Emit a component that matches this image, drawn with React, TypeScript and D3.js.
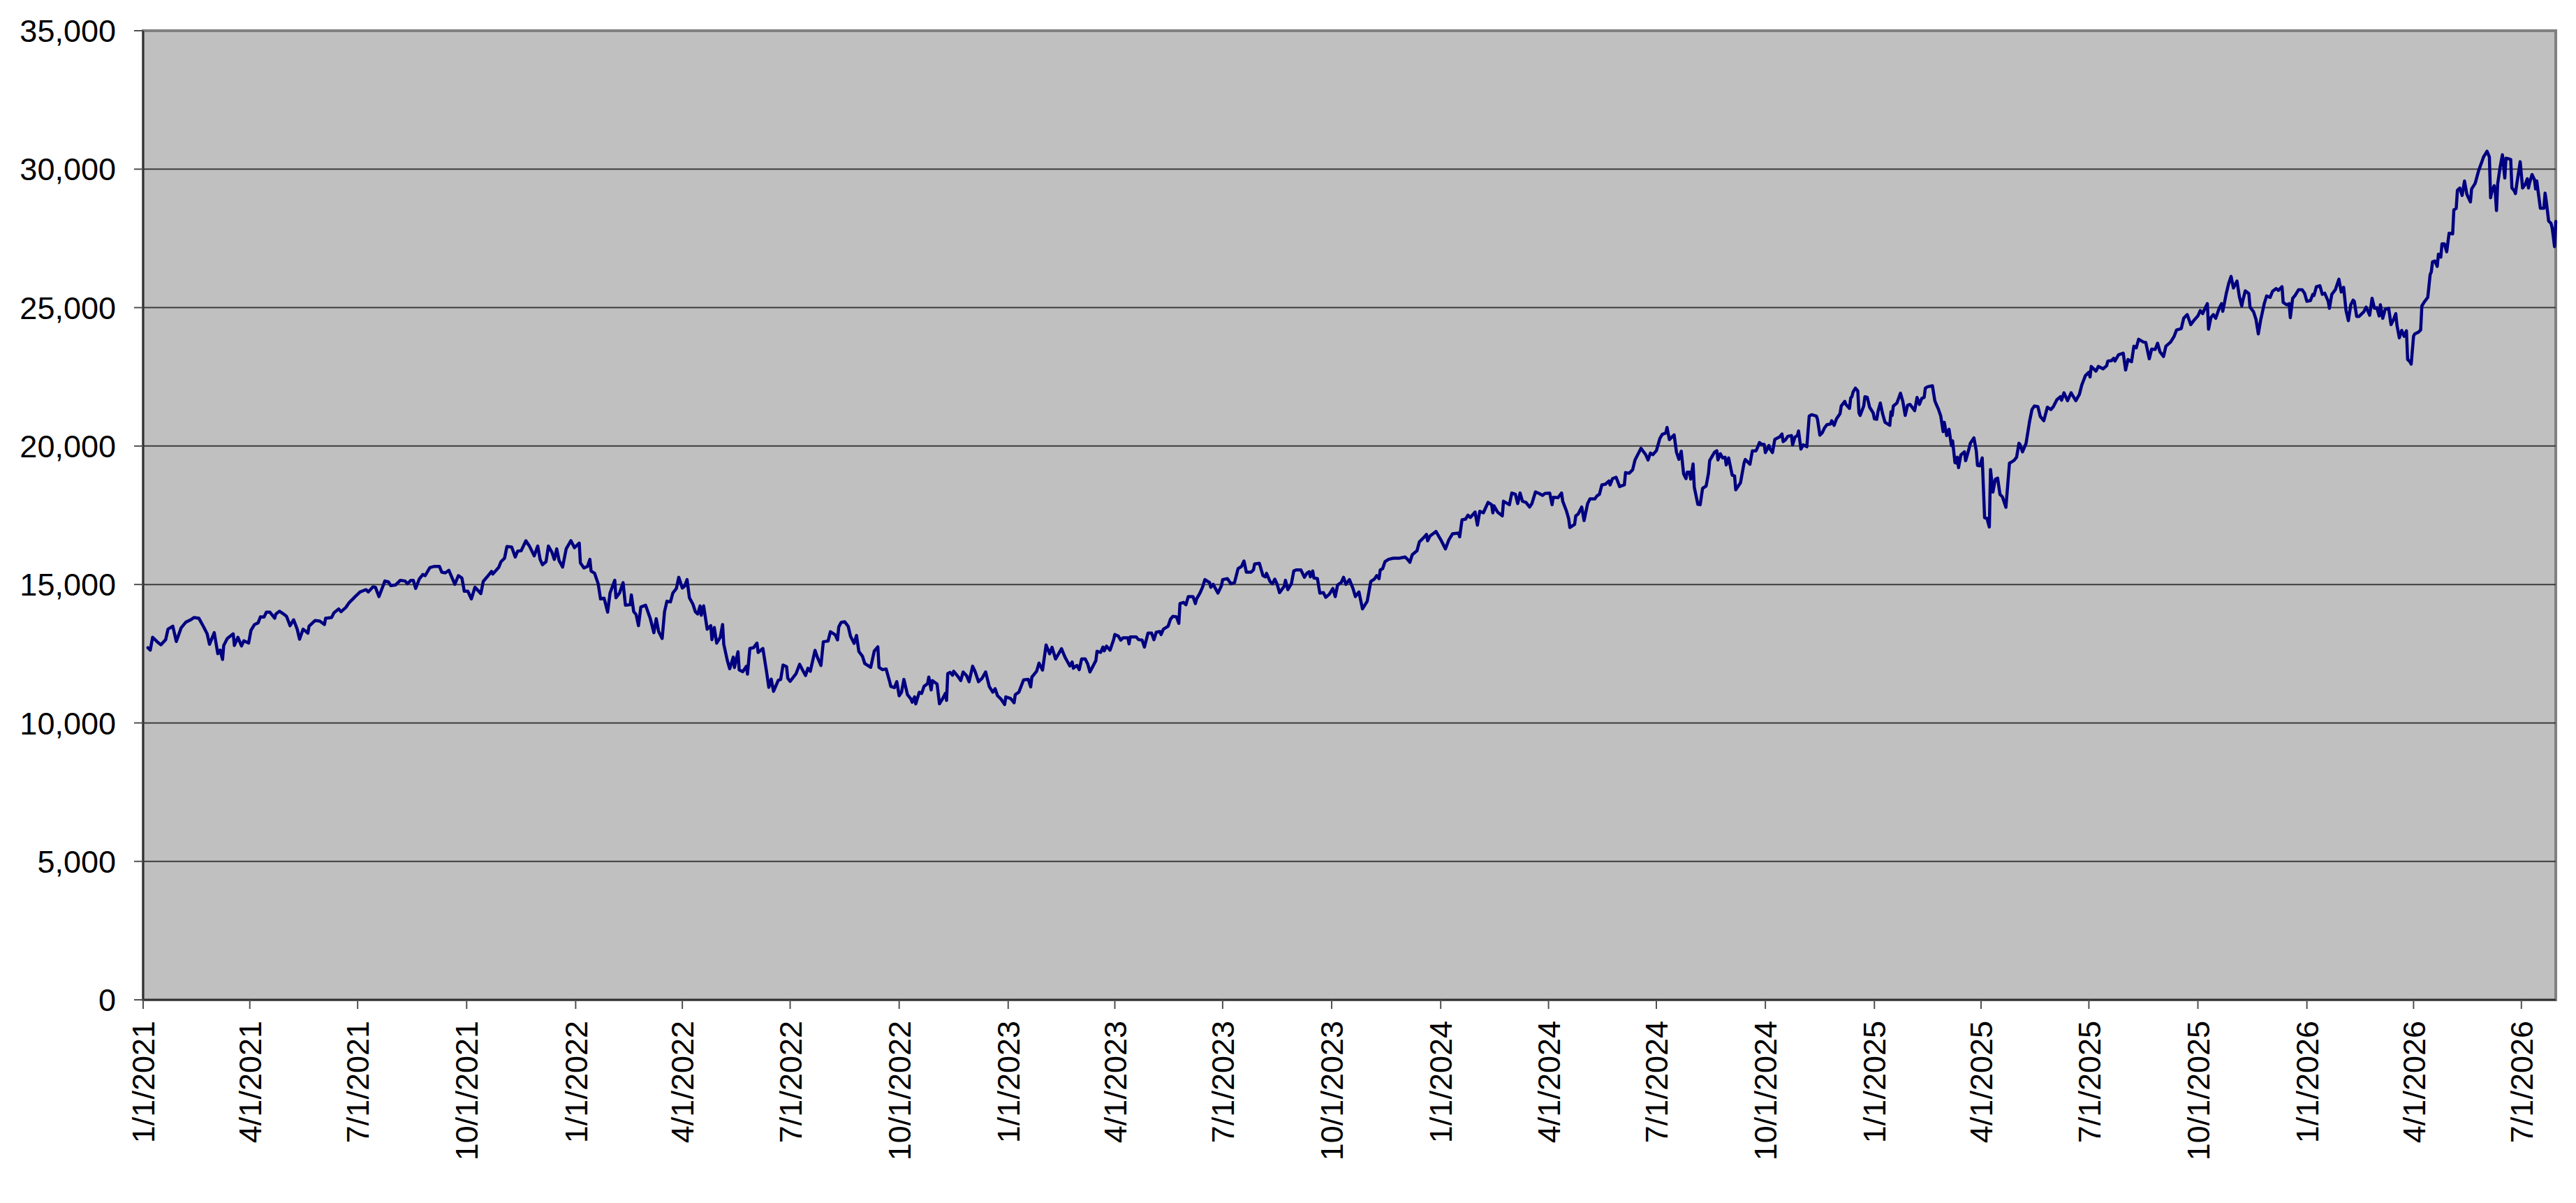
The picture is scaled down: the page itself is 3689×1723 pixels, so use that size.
import React from "react";
import * as d3 from "d3";

// ---- DATA ----
const yTicks: number[] = [0, 5000, 10000, 15000, 20000, 25000, 30000, 35000];

const xTickLabels: string[] = [
  "1/1/2021", "4/1/2021", "7/1/2021", "10/1/2021",
  "1/1/2022", "4/1/2022", "7/1/2022", "10/1/2022",
  "1/1/2023", "4/1/2023", "7/1/2023", "10/1/2023",
  "1/1/2024", "4/1/2024", "7/1/2024", "10/1/2024",
  "1/1/2025", "4/1/2025", "7/1/2025", "10/1/2025",
  "1/1/2026", "4/1/2026", "7/1/2026",
];

const axisStart = "2021-01-01";
const axisEnd = "2026-07-30";

const y2021: [string, number][] = [
  ["01-05",12715],["01-07",12630],["01-09",13093],["01-13",12925],["01-16",12824],["01-20",13008],["01-22",13387],
  ["01-26",13496],["01-29",12941],["02-02",13429],["02-06",13639],["02-10",13723],["02-13",13807],["02-17",13782],
  ["02-21",13471],["02-24",13219],["02-26",12840],["03-02",13261],["03-05",12504],["03-07",12630],["03-09",12294],
  ["03-10",12798],["03-13",13050],["03-18",13219],["03-19",12798],["03-22",13093],["03-25",12782],["03-27",12967],
  ["03-31",12883],["04-02",13345],["04-05",13555],["04-08",13613],["04-10",13832],["04-13",13824],["04-15",14000],
  ["04-18",14000],["04-22",13782],["04-23",13933],["04-26",14034],["04-29",13950],["05-02",13849],["05-05",13513],
  ["05-08",13723],["05-11",13387],["05-13",13025],["05-16",13387],["05-20",13244],["05-21",13496],["05-26",13698],
  ["05-30",13681],["06-03",13555],["06-04",13782],["06-09",13807],["06-11",13975],["06-15",14118],["06-17",14017],
  ["06-21",14168],["06-24",14353],["06-29",14563],["07-03",14731],["07-08",14815],["07-10",14731],["07-14",14916],
  ["07-16",14899],["07-19",14563],["07-24",15126],["07-27",15092],["07-29",14958],["08-02",14983],["08-06",15151],
  ["08-10",15126],["08-12",15025],["08-15",15151],["08-17",15151],["08-19",14857],["08-22",15193],["08-25",15361],
  ["08-27",15319],["08-31",15613],["09-04",15655],["09-08",15655],["09-10",15445],["09-13",15420],["09-16",15513],
  ["09-21",15008],["09-24",15319],["09-27",15235],["09-29",14756],["10-02",14756],["10-05",14479],["10-08",14899],
  ["10-13",14672],["10-15",15109],["10-18",15260],["10-22",15471],["10-23",15378],["10-28",15613],["10-30",15823],
  ["11-02",15950],["11-04",16370],["11-08",16353],["11-11",15992],["11-13",16202],["11-16",16218],["11-20",16580],
  ["11-23",16387],["11-27",16034],["11-30",16387],["12-02",15907],["12-04",15714],["12-07",15823],["12-09",16387],
  ["12-12",16160],["12-14",15907],["12-16",16286],["12-18",15866],["12-21",15630],["12-24",16286],["12-28",16580],
  ["12-31",16328],
];

const y2022: [string, number][] = [
  ["01-04",16496],["01-05",15781],["01-08",15597],["01-11",15655],["01-13",15907],["01-14",15487],["01-17",15403],
  ["01-20",15025],["01-22",14479],["01-25",14504],["01-28",14000],["01-30",14689],["02-03",15151],["02-04",14521],
  ["02-07",14689],["02-10",15067],["02-12",14252],["02-16",14269],["02-17",14622],["02-19",14017],["02-21",13916],
  ["02-23",13513],["02-25",14185],["03-01",14252],["03-05",13765],["03-08",13261],["03-10",13765],["03-12",13303],
  ["03-15",13050],["03-17",14017],["03-19",14395],["03-22",14370],["03-24",14689],["03-27",14857],["03-29",15260],
  ["04-01",14874],["04-03",14941],["04-05",15176],["04-07",14521],["04-10",14286],["04-12",14017],["04-14",13933],
  ["04-16",14227],["04-17",13891],["04-19",14227],["04-22",13387],["04-25",13513],["04-26",13008],["04-28",13445],
  ["04-30",12882],["05-03",13092],["05-05",13555],["05-06",12840],["05-09",12252],["05-11",11958],["05-14",12378],
  ["05-15",12000],["05-18",12571],["05-19",11916],["05-22",11849],["05-25",12042],["05-26",11765],["05-28",12689],
  ["05-31",12714],["06-03",12882],["06-04",12546],["06-08",12689],["06-11",11874],["06-13",11286],["06-15",11580],
  ["06-17",11143],["06-21",11538],["06-23",11572],["06-25",12093],["06-28",12034],["06-29",11614],["07-01",11504],
  ["07-06",11782],["07-09",12118],["07-11",11950],["07-14",11714],["07-16",11975],["07-18",11866],["07-22",12622],
  ["07-24",12370],["07-27",12076],["07-29",12933],["08-02",12958],["08-04",13294],["08-08",13185],["08-10",13000],
  ["08-11",13462],["08-13",13630],["08-16",13656],["08-19",13487],["08-21",13126],["08-24",12874],["08-26",13160],
  ["08-28",12580],["08-31",12412],["09-02",12143],["09-07",12009],["09-10",12597],["09-13",12748],["09-14",12009],
  ["09-17",11924],["09-20",11950],["09-23",11488],["09-24",11320],["09-27",11277],["09-29",11488],["10-01",10983],
  ["10-03",11109],["10-05",11572],["10-08",11025],["10-11",10857],["10-12",10748],["10-14",10941],["10-15",10689],
  ["10-18",11109],["10-20",11067],["10-22",11320],["10-25",11420],["10-26",11656],["10-28",11193],["10-29",11530],
  ["11-02",11404],["11-04",10689],["11-07",10899],["11-09",11067],["11-10",10815],["11-11",11782],["11-13",11824],
  ["11-15",11723],["11-16",11866],["11-20",11656],["11-22",11530],["11-24",11840],["11-27",11698],["11-29",11488],
  ["12-02",12050],["12-04",11866],["12-07",11488],["12-10",11614],["12-13",11840],["12-16",11320],["12-19",11109],
  ["12-21",11236],["12-23",10983],["12-26",10857],["12-29",10664],["12-30",10941],
];

const y2023: [string, number][] = [
  ["01-03",10883],["01-06",10731],["01-07",11025],["01-10",11109],["01-14",11555],["01-18",11572],["01-20",11303],
  ["01-21",11656],["01-25",11866],["01-27",12160],["01-30",11908],["02-02",12815],["02-05",12496],["02-07",12731],
  ["02-10",12311],["02-15",12681],["02-18",12370],["02-22",12059],["02-24",12202],["02-25",11975],["02-28",12076],
  ["03-02",11924],["03-04",12311],["03-07",12311],["03-09",12143],["03-11",11840],["03-16",12252],["03-17",12588],
  ["03-20",12546],["03-22",12740],["03-23",12605],["03-25",12773],["03-28",12630],["03-31",13008],["04-01",13193],
  ["04-04",13134],["04-06",12992],["04-08",13076],["04-12",13076],["04-13",12857],["04-14",13109],["04-19",13109],
  ["04-21",13008],["04-24",12992],["04-26",12740],["04-29",13244],["05-02",13244],["05-04",13008],["05-06",13277],
  ["05-09",13303],["05-10",13193],["05-12",13387],["05-16",13496],["05-18",13748],["05-20",13849],["05-23",13832],
  ["05-25",13597],["05-26",14311],["05-29",14353],["05-31",14269],["06-02",14563],["06-06",14563],["06-08",14311],
  ["06-09",14479],["06-12",14706],["06-14",14899],["06-16",15176],["06-20",15067],["06-21",14899],["06-23",15008],
  ["06-27",14689],["06-30",14958],["07-01",15176],["07-05",15210],["07-08",15025],["07-11",15067],["07-14",15571],
  ["07-17",15655],["07-19",15849],["07-21",15445],["07-25",15445],["07-27",15529],["07-28",15739],["08-01",15765],
  ["08-04",15319],["08-06",15277],["08-07",15403],["08-10",15109],["08-12",15025],["08-14",15193],["08-16",15008],
  ["08-18",14706],["08-22",14941],["08-23",15151],["08-25",14815],["08-28",15025],["08-30",15487],["09-01",15529],
  ["09-05",15529],["09-08",15260],["09-10",15403],["09-12",15462],["09-13",15277],["09-15",15487],["09-16",15235],
  ["09-19",15210],["09-21",14689],["09-24",14706],["09-26",14538],["09-29",14647],["10-02",14857],["10-04",14563],
  ["10-06",14983],["10-09",15067],["10-11",15260],["10-13",15008],["10-16",15176],["10-19",14857],["10-21",14563],
  ["10-24",14731],["10-27",14118],["10-31",14395],["11-03",15109],["11-06",15193],["11-08",15319],["11-10",15210],
  ["11-11",15529],["11-13",15571],["11-15",15824],["11-18",15908],["11-22",15950],["11-27",15950],["12-02",15992],
  ["12-04",15908],["12-06",15799],["12-08",16076],["12-12",16219],["12-14",16538],["12-17",16664],["12-20",16807],
  ["12-21",16580],["12-23",16748],["12-28",16916],
];

const y2024: [string, number][] = [
  ["01-01",16622],["01-05",16286],["01-08",16622],["01-11",16832],["01-16",16857],["01-17",16723],["01-19",17336],
  ["01-22",17361],["01-24",17504],["01-26",17420],["01-30",17614],["02-01",17143],["02-03",17647],["02-06",17588],
  ["02-10",17966],["02-13",17882],["02-14",17588],["02-15",17840],["02-18",17614],["02-22",17479],["02-23",18008],
  ["02-28",17882],["03-01",18303],["03-04",18261],["03-06",17924],["03-08",18303],["03-10",18008],["03-13",17966],
  ["03-16",17798],["03-18",17924],["03-21",18345],["03-24",18286],["03-27",18219],["03-29",18286],["04-02",18303],
  ["04-04",17882],["04-05",18151],["04-09",18135],["04-12",18303],["04-13",18008],["04-16",17672],["04-18",17378],
  ["04-19",17059],["04-23",17168],["04-24",17479],["04-26",17546],["04-29",17798],["05-01",17311],["05-04",17924],
  ["05-06",18092],["05-10",18092],["05-12",18202],["05-14",18261],["05-16",18597],["05-19",18622],["05-22",18740],
  ["05-23",18597],["05-25",18824],["05-28",18874],["05-31",18538],["06-04",18597],["06-05",19042],["06-08",19017],
  ["06-11",19143],["06-13",19496],["06-18",19916],["06-22",19689],["06-24",19496],["06-26",19748],["06-28",19689],
  ["07-01",19832],["07-04",20277],["07-06",20420],["07-09",20471],["07-10",20672],["07-12",20235],["07-16",20403],
  ["07-18",19773],["07-20",19521],["07-22",19815],["07-24",18992],["07-26",18824],["07-27",19059],["07-29",19059],
  ["07-30",18807],["08-01",19353],["08-02",18513],["08-05",17899],["08-07",17882],["08-09",18471],["08-12",18555],
  ["08-14",19017],["08-15",19479],["08-19",19773],["08-21",19832],["08-22",19500],["08-24",19723],["08-26",19571],
  ["08-28",19597],["08-29",19319],["08-31",19571],["09-03",18950],["09-05",18924],["09-06",18420],["09-10",18672],
  ["09-13",19387],["09-14",19513],["09-18",19345],["09-20",19824],["09-23",19824],["09-24",19908],["09-26",20126],
  ["09-28",20059],["09-30",20059],["10-01",19765],["10-04",20017],["10-05",19891],["10-07",19765],["10-09",20244],
  ["10-13",20328],["10-15",20437],["10-16",20160],["10-18",20227],["10-20",20353],["10-23",20378],["10-24",20042],
  ["10-26",20328],["10-28",20378],["10-29",20546],["10-31",19891],["11-02",20042],["11-05",19975],["11-07",21084],
  ["11-09",21134],["11-13",21084],["11-14",20966],["11-16",20395],["11-18",20479],["11-20",20664],["11-22",20773],
  ["11-25",20798],["11-26",20916],["11-28",20748],["11-30",20983],["12-03",21168],["12-04",21445],["12-07",21613],
  ["12-08",21504],["12-11",21361],["12-12",21739],["12-13",21782],["12-14",21950],["12-16",22092],["12-18",21992],
  ["12-19",21193],["12-20",21109],["12-23",21445],["12-24",21782],["12-26",21756],["12-28",21403],["12-31",21193],
];

const y2025: [string, number][] = [
  ["01-01",20983],["01-03",20966],["01-04",21235],["01-06",21555],["01-08",21151],["01-10",20857],["01-14",20748],
  ["01-15",21235],["01-16",21109],["01-17",21445],["01-20",21555],["01-23",21908],["01-25",21613],["01-27",21109],
  ["01-29",21471],["01-31",21504],["02-04",21277],["02-06",21756],["02-08",21504],["02-10",21723],["02-12",21756],
  ["02-13",22092],["02-15",22143],["02-19",22176],["02-21",21639],["02-22",21529],["02-24",21336],["02-26",21084],
  ["02-28",20521],["03-01",20857],["03-03",20378],["03-05",20605],["03-07",20017],["03-08",20185],["03-10",19403],
  ["03-11",19387],["03-12",19597],["03-13",19219],["03-15",19681],["03-18",19790],["03-19",19471],["03-21",19765],
  ["03-23",20101],["03-26",20294],["03-28",19824],["03-29",19303],["03-31",19286],["04-02",19571],["04-04",17412],
  ["04-06",17387],["04-08",17076],["04-09",19151],["04-11",18336],["04-13",18798],["04-15",18840],["04-17",18252],
  ["04-19",18168],["04-22",17790],["04-25",19387],["04-27",19429],["04-29",19487],["05-01",19597],["05-03",20101],
  ["05-04",20042],["05-06",19790],["05-09",20101],["05-12",20899],["05-14",21319],["05-16",21446],["05-19",21420],
  ["05-21",21067],["05-24",20916],["05-27",21404],["05-30",21320],["06-01",21420],["06-04",21672],["06-07",21782],
  ["06-08",21656],["06-10",21924],["06-13",21639],["06-16",21924],["06-20",21639],["06-23",21866],["06-25",22202],
  ["06-28",22538],["07-01",22664],["07-02",22496],["07-03",22874],["07-07",22706],["07-09",22874],["07-13",22790],
  ["07-16",22899],["07-17",23067],["07-20",23084],["07-22",23168],["07-23",23067],["07-26",23294],["07-30",23353],
  ["08-01",22748],["08-03",23126],["08-06",23042],["08-08",23605],["08-10",23546],["08-12",23857],["08-16",23756],
  ["08-18",23740],["08-21",23151],["08-23",23504],["08-26",23487],["08-28",23714],["08-30",23403],["09-02",23235],
  ["09-04",23605],["09-08",23756],["09-11",23966],["09-13",24193],["09-17",24244],["09-19",24613],["09-22",24748],
  ["09-25",24387],["09-28",24555],["10-01",24698],["10-03",24891],["10-05",24782],["10-07",24975],["10-09",25143],
  ["10-10",24219],["10-12",24639],["10-14",24748],["10-16",24613],["10-19",24975],["10-21",25143],["10-22",24866],
  ["10-25",25521],["10-27",25874],["10-29",26126],["10-31",25706],["11-03",25958],["11-05",25395],["11-07",25059],
  ["11-08",25269],["11-10",25605],["11-13",25504],["11-14",25017],["11-17",24849],["11-19",24580],["11-21",24050],
  ["11-23",24555],["11-26",25143],["11-28",25420],["12-01",25370],["12-03",25588],["12-06",25689],["12-08",25622],
  ["12-11",25756],["12-12",25185],["12-15",25101],["12-17",25143],["12-18",24639],["12-20",25336],["12-22",25437],
  ["12-25",25647],["12-28",25647],["12-30",25521],
];

const y2026: [string, number][] = [
  ["01-01",25227],["01-04",25252],["01-06",25479],["01-07",25437],["01-09",25756],["01-12",25790],["01-14",25479],
  ["01-16",25521],["01-19",25227],["01-20",24975],["01-22",25479],["01-25",25647],["01-28",26025],["01-30",25563],
  ["02-01",25731],["02-03",24900],["02-05",24530],["02-07",25101],["02-09",25269],["02-10",25227],["02-12",24681],
  ["02-14",24681],["02-18",24849],["02-20",25017],["02-23",24723],["02-25",25336],["02-27",24975],["03-01",25000],
  ["03-03",24698],["03-04",25101],["03-06",24614],["03-08",24933],["03-11",24975],["03-13",24387],["03-15",24555],
  ["03-17",24782],["03-18",24362],["03-20",23908],["03-22",24177],["03-24",23966],["03-26",24160],["03-27",23126],
  ["03-29",23042],["03-30",22958],["04-01",23966],["04-02",24050],["04-05",24109],["04-07",24193],["04-08",25059],
  ["04-10",25202],["04-13",25370],["04-15",26193],["04-16",26294],["04-17",26656],["04-19",26681],["04-21",26488],
  ["04-22",26933],["04-24",26824],["04-25",27303],["04-27",27303],["04-29",27017],["05-01",27689],["05-04",27664],
  ["05-05",28530],["05-07",28588],["05-08",29235],["05-10",29319],["05-12",29050],["05-14",29571],["05-16",29092],
  ["05-19",28815],["05-20",29286],["05-23",29487],["05-26",29958],["05-29",30311],["05-30",30437],["06-02",30647],
  ["06-04",30437],["06-05",28966],["06-06",29176],["06-08",29403],["06-09",29134],["06-10",28504],["06-11",29471],
  ["06-13",30059],["06-15",30521],["06-17",29681],["06-18",30395],["06-20",30378],["06-22",30353],["06-23",29319],
  ["06-25",29219],["06-26",29118],["06-27",29429],["06-30",30269],["07-02",29319],["07-04",29429],["07-06",29655],
  ["07-07",29319],["07-08",29513],["07-10",29807],["07-12",29622],["07-13",29286],["07-14",29571],["07-15",29235],
  ["07-17",28588],["07-20",28588],["07-21",29134],["07-22",28840],["07-24",28126],["07-26",28042],["07-27",27874],
  ["07-29",27202],["07-30",28109],
];

const years: [number, [string, number][]][] = [
  [2021, y2021], [2022, y2022], [2023, y2023], [2024, y2024], [2025, y2025], [2026, y2026],
];

// ---- LAYOUT ----
const W = 3689;
const H = 1723;
const plotLeft = 205;
const plotRight = 3660;
const plotTop = 44;
const plotBottom = 1432;
const FONT = "'Liberation Sans', Arial, Helvetica, sans-serif";

const parseISO = d3.utcParse("%Y-%m-%d");
const parseMDY = d3.utcParse("%m/%d/%Y");

type Pt = { date: Date; value: number };

export default function App() {
  const points: Pt[] = [];
  years.forEach(([yr, arr]) => {
    arr.forEach(([md, v]) => {
      points.push({ date: parseISO(`${yr}-${md}`) as Date, value: v });
    });
  });
  points.sort((a, b) => +a.date - +b.date);

  const x = d3
    .scaleUtc()
    .domain([parseISO(axisStart) as Date, parseISO(axisEnd) as Date])
    .range([plotLeft, plotRight]);
  const y = d3.scaleLinear().domain([0, 35000]).range([plotBottom, plotTop]);

  const line = d3
    .line<Pt>()
    .x((d) => x(d.date))
    .y((d) => y(d.value));

  const fmt = d3.format(",");
  const xTicks = xTickLabels.map((s) => ({ label: s, date: parseMDY(s) as Date }));

  return (
    <svg
      width={W}
      height={H}
      viewBox={`0 0 ${W} ${H}`}
      style={{ position: "absolute", left: 0, top: 0, background: "#ffffff", display: "block" }}
    >
      <rect x={0} y={0} width={W} height={H} fill="#ffffff" />
      {/* plot area */}
      <rect
        x={plotLeft}
        y={plotTop}
        width={plotRight - plotLeft}
        height={plotBottom - plotTop}
        fill="#C0C0C0"
        stroke="#808080"
        strokeWidth={4}
      />
      {/* gridlines */}
      {yTicks
        .filter((t) => t > 0 && t < 35000)
        .map((t) => (
          <line
            key={`g${t}`}
            x1={plotLeft}
            x2={plotRight}
            y1={y(t)}
            y2={y(t)}
            stroke="#3c3c3c"
            strokeWidth={2}
          />
        ))}
      {/* series line */}
      <path
        d={line(points) || ""}
        fill="none"
        stroke="#000080"
        strokeWidth={4.5}
        strokeLinejoin="round"
        strokeLinecap="round"
      />
      {/* axes */}
      <line x1={plotLeft} x2={plotLeft} y1={plotTop} y2={plotBottom} stroke="#303030" strokeWidth={2.5} />
      <line x1={plotLeft} x2={plotRight} y1={plotBottom} y2={plotBottom} stroke="#303030" strokeWidth={2.5} />
      {/* y ticks and labels */}
      {yTicks.map((t) => (
        <g key={`y${t}`}>
          <line x1={plotLeft - 13} x2={plotLeft} y1={y(t)} y2={y(t)} stroke="#505050" strokeWidth={2} />
          <text
            x={166}
            y={y(t)}
            dy="0.36em"
            textAnchor="end"
            fontFamily={FONT}
            fontSize={45}
            fill="#000000"
          >
            {fmt(t)}
          </text>
        </g>
      ))}
      {/* x ticks and labels */}
      {xTicks.map((t) => {
        const px = x(t.date);
        return (
          <g key={`x${t.label}`}>
            <line x1={px} x2={px} y1={plotBottom} y2={plotBottom + 13} stroke="#505050" strokeWidth={2} />
            <text
              transform={`translate(${px},${plotBottom + 30}) rotate(-90)`}
              dy="0.36em"
              textAnchor="end"
              fontFamily={FONT}
              fontSize={45}
              fill="#000000"
            >
              {t.label}
            </text>
          </g>
        );
      })}
    </svg>
  );
}
